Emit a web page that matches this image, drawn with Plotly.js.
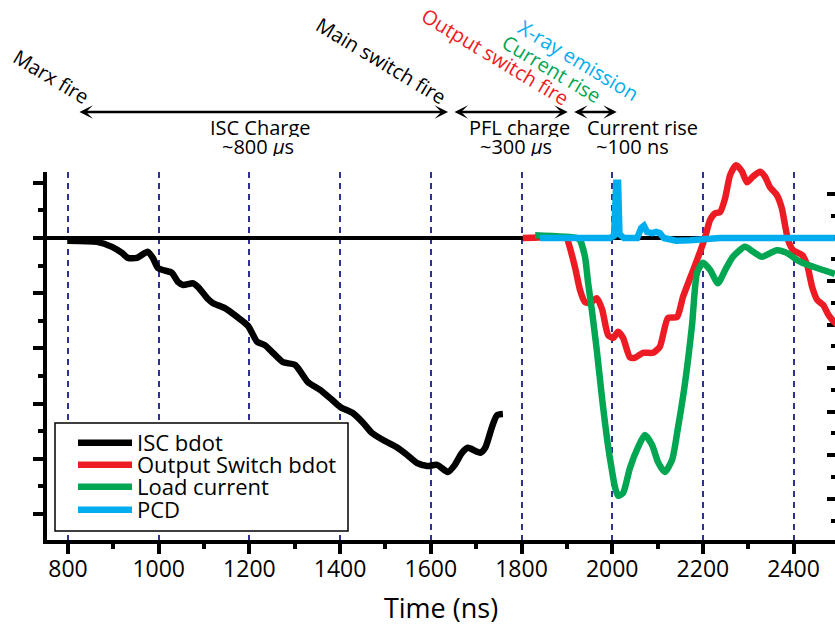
<!DOCTYPE html>
<html><head><meta charset="utf-8">
<script src="https://cdn.plot.ly/plotly-3.0.1.min.js"></script>
<style>html,body{margin:0;padding:0;background:#fff;overflow:hidden}#chart{width:835px;height:628px}</style>
</head><body><div id="chart"></div>
<script>
// ---- data (time in ns, signal in arbitrary units) ----
const iscTime = [800,864,897,919,932,952,976,987,998,1009,1029,1043,1054,1076,1087,1107,1120,1146,1173,1197,1217,1234,1252,1274,1301,1329,1356,1382,1400,1428,1451,1470,1495,1525,1548,1570,1592,1614,1638,1653,1669,1682,1709,1720,1735,1746,1759];
const iscValue = [-0.05,-0.07,-0.16,-0.27,-0.36,-0.36,-0.25,-0.36,-0.54,-0.58,-0.63,-0.80,-0.85,-0.82,-0.89,-1.09,-1.18,-1.27,-1.43,-1.59,-1.88,-1.94,-2.08,-2.25,-2.30,-2.61,-2.75,-2.93,-3.06,-3.17,-3.35,-3.53,-3.66,-3.79,-3.93,-4.08,-4.13,-4.11,-4.24,-4.11,-3.89,-3.80,-3.89,-3.80,-3.42,-3.21,-3.19];

const osTime = [1803,1900,1903,1918,1929,1940,1951,1966,1978,1991,2002,2013,2024,2039,2050,2068,2090,2105,2123,2143,2156,2172,2187,2205,2216,2227,2238,2249,2260,2273,2286,2297,2310,2326,2337,2348,2363,2374,2381,2388,2399,2419,2430,2441,2452,2465,2476,2487,2498];
const osValue = [0,0,-0.07,-0.53,-0.94,-1.16,-1.18,-1.09,-1.30,-1.76,-1.81,-1.70,-1.81,-2.16,-2.17,-2.08,-2.08,-1.97,-1.45,-1.43,-1.07,-0.72,-0.40,0.02,0.33,0.45,0.47,0.72,1.14,1.32,1.21,1.01,1.11,1.20,1.11,0.92,0.78,0.54,0.24,-0.04,-0.22,-0.31,-0.49,-0.89,-1.12,-1.21,-1.38,-1.50,-1.58];

const lcTime = [1830,1922,1929,1940,1947,1955,1966,1978,1989,2000,2006,2013,2024,2039,2057,2072,2088,2101,2116,2132,2145,2160,2176,2187,2200,2216,2233,2249,2266,2293,2311,2330,2363,2385,2408,2432,2465,2491];
const lcValue = [0.05,0,-0.04,-0.34,-0.82,-1.30,-2.03,-2.93,-3.66,-4.24,-4.51,-4.67,-4.62,-4.17,-3.79,-3.57,-3.75,-4.06,-4.24,-4.02,-3.44,-2.66,-1.58,-0.63,-0.45,-0.58,-0.82,-0.58,-0.34,-0.16,-0.25,-0.34,-0.22,-0.27,-0.40,-0.49,-0.58,-0.65];

const pcdTime = [1841,1885,1951,1995,2004,2009,2013,2016,2026,2055,2064,2070,2077,2088,2097,2105,2114,2141,2172,2205,2238,2491];
const pcdValue = [0,0,0.02,0,0.04,1.0,1.0,0.07,0,0,0.18,0.22,0.11,0.09,0.11,0.09,0,-0.05,-0.04,-0.02,0,0];

const seriesNames = ["ISC bdot","Output Switch bdot","Load current","PCD"];
const seriesColors = ["#000000","#ed1c24","#00a651","#00aeef"];

const xTickVals = [800,1000,1200,1400,1600,1800,2000,2200,2400];
const xTickText = ["800","1000","1200","1400","1600","1800","2000","2200","2400"];

// phase boundaries (ns) for the arrows
const phaseStart = [822, 1649, 1913];
const phaseEnd   = [1638, 1902, 2010];
const phaseLine1 = ["ISC Charge","PFL charge","Current rise"];
const phaseLine2 = ["~800 <i>\u03bc</i>s","~300 <i>\u03bc</i>s","~100 ns"];
const eventLabels = ["Marx fire","Main switch fire","Output switch fire","Current rise","X-ray emission"];
const eventColors = ["#000000","#000000","#ed1c24","#00a651","#00aeef"];

// ---- chart ----
const FONT = "Open Sans, Noto Sans, sans-serif";
const W = 835, H = 628, L = 47, R = 0, T = 158, B = 88;
const pw = W - L - R, ph = H - T - B;
const px2paperX = p => (p - L) / pw;
const px2paperY = p => (H - B - p) / ph;
const axisTopPx = 172;            // top of the drawn axes frame
const yDomTop = px2paperY(axisTopPx);
const XR = [753.7, 2491.3];
const YR = [-5.471, 1.196];
const unitPx = (H - B - axisTopPx) / (YR[1] - YR[0]);
const Y3R = [YR[0], YR[0] + ph / unitPx];

const xs = [iscTime, osTime, lcTime, pcdTime];
const ys = [iscValue, osValue, lcValue, pcdValue];
const legendIds = ["legend","legend2","legend3","legend4"];
const traces = xs.map((x, i) => ({
  type: "scatter", mode: "lines", x: x, y: ys[i], name: seriesNames[i],
  xaxis: i === 0 ? "x" : "x2", yaxis: i === 0 ? "y" : "y3",
  line: {color: seriesColors[i], width: 6.5, shape: i === 3 ? "linear" : "spline", smoothing: 0.6},
  legend: legendIds[i], hoverinfo: "skip"
}));
traces.push({type: "scatter", mode: "lines", x: [], y: [], yaxis: "y2", showlegend: false, hoverinfo: "skip"});

const annotations = [];
const arrowYpx = 112;
for (let i = 0; i < phaseStart.length; i++) {
  annotations.push({
    xref: "x", yref: "paper", axref: "x", ayref: "pixel",
    x: phaseEnd[i], y: px2paperY(arrowYpx), ax: phaseStart[i], ay: 0,
    text: "", showarrow: true, arrowside: "end+start",
    arrowhead: 3, startarrowhead: 3, arrowsize: 0.9, startarrowsize: 0.9,
    arrowwidth: 2.5, arrowcolor: "#000", standoff: 0, startstandoff: 0
  });
}
const line1X = [260, 519, 642], line2X = [258, 516, 632];
for (let i = 0; i < phaseLine1.length; i++) {
  annotations.push({xref: "paper", yref: "paper", x: px2paperX(line1X[i]), y: px2paperY(127),
    xanchor: "center", yanchor: "middle", height: 19, valign: "middle", text: phaseLine1[i], showarrow: false,
    font: {family: FONT, size: 20, color: "#000"}});
  annotations.push({xref: "paper", yref: "paper", x: px2paperX(line2X[i]), y: px2paperY(147),
    xanchor: "center", yanchor: "middle", height: 19, valign: "middle", text: phaseLine2[i], showarrow: false,
    font: {family: FONT, size: 20, color: "#000"}});
}
const evX = [51, 381, 495, 551, 579], evY = [77, 60, 56, 69, 60];
for (let i = 0; i < eventLabels.length; i++) {
  annotations.push({xref: "paper", yref: "paper", x: px2paperX(evX[i]), y: px2paperY(evY[i]),
    xanchor: "center", yanchor: "middle", text: eventLabels[i], showarrow: false, textangle: 31,
    font: {family: FONT, size: 20, color: eventColors[i]}});
}

const legY = [443, 465, 487, 510];
const legX = 73;
const legBase = {xanchor: "left", yanchor: "middle", bgcolor: "rgba(0,0,0,0)", borderwidth: 0,
  font: {family: FONT, size: 22, color: "#000"}, itemwidth: 54};
const layout = {
  width: W, height: H, margin: {l: L, r: R, t: T, b: B, pad: 0},
  paper_bgcolor: "#fff", plot_bgcolor: "rgba(0,0,0,0)",
  font: {family: FONT, color: "#000"},
  showlegend: true,
  xaxis: {
    range: XR, domain: [0, 1], anchor: "y", tickmode: "array", tickvals: xTickVals, ticktext: xTickText,
    ticks: "outside", ticklen: 10, tickwidth: 4, tickcolor: "#000", ticklabelstandoff: -5,
    showline: true, linewidth: 4, linecolor: "#000",
    showgrid: true, gridcolor: "#2e3192", gridwidth: 2, griddash: "6px,5px",
    zeroline: false,
    tickfont: {family: FONT, size: 23, color: "#000"},
    minor: {dtick: 100, tick0: 800, ticks: "outside", ticklen: 5, tickwidth: 4, tickcolor: "#000", showgrid: false},
    title: {text: "Time (ns)", font: {family: FONT, size: 27, color: "#000"}, standoff: 18}
  },
  yaxis: {
    range: YR, domain: [0, yDomTop], anchor: "x", tick0: 0, dtick: 1,
    ticks: "outside", ticklen: 10, tickwidth: 4, tickcolor: "#000", showticklabels: false,
    showline: true, linewidth: 4, linecolor: "#000", showgrid: false,
    zeroline: true, zerolinecolor: "#000", zerolinewidth: 4,
    minor: {dtick: 0.5, ticks: "outside", ticklen: 5, tickwidth: 4, tickcolor: "#000", showgrid: false}
  },
  yaxis2: {
    overlaying: "y", side: "right", range: [-6.943, 1.498], tick0: 0, dtick: 1,
    ticks: "inside", ticklen: 8, tickwidth: 4, tickcolor: "#000", showticklabels: false,
    showline: false, showgrid: false, zeroline: false,
    minor: {dtick: 0.5, ticks: "inside", ticklen: 4, tickwidth: 4, tickcolor: "#000", showgrid: false}
  },
  xaxis2: {range: XR, domain: [0, 1], anchor: "y3", visible: false, showgrid: false, zeroline: false},
  yaxis3: {range: Y3R, domain: [0, 1], anchor: "x2", visible: false, showgrid: false, zeroline: false},
  legend:  Object.assign({}, legBase, {x: px2paperX(legX), y: px2paperY(legY[0])}),
  legend2: Object.assign({}, legBase, {x: px2paperX(legX), y: px2paperY(legY[1])}),
  legend3: Object.assign({}, legBase, {x: px2paperX(legX), y: px2paperY(legY[2])}),
  legend4: Object.assign({}, legBase, {x: px2paperX(legX), y: px2paperY(legY[3])}),
  shapes: [{type: "rect", xref: "paper", yref: "paper",
    x0: px2paperX(55), x1: px2paperX(348), y0: px2paperY(531), y1: px2paperY(423),
    fillcolor: "#fff", line: {color: "#000", width: 1.5}, layer: "above"}],
  annotations: annotations,
  hovermode: false
};
Plotly.newPlot("chart", traces, layout, {staticPlot: true, displayModeBar: false});
</script></body></html>
